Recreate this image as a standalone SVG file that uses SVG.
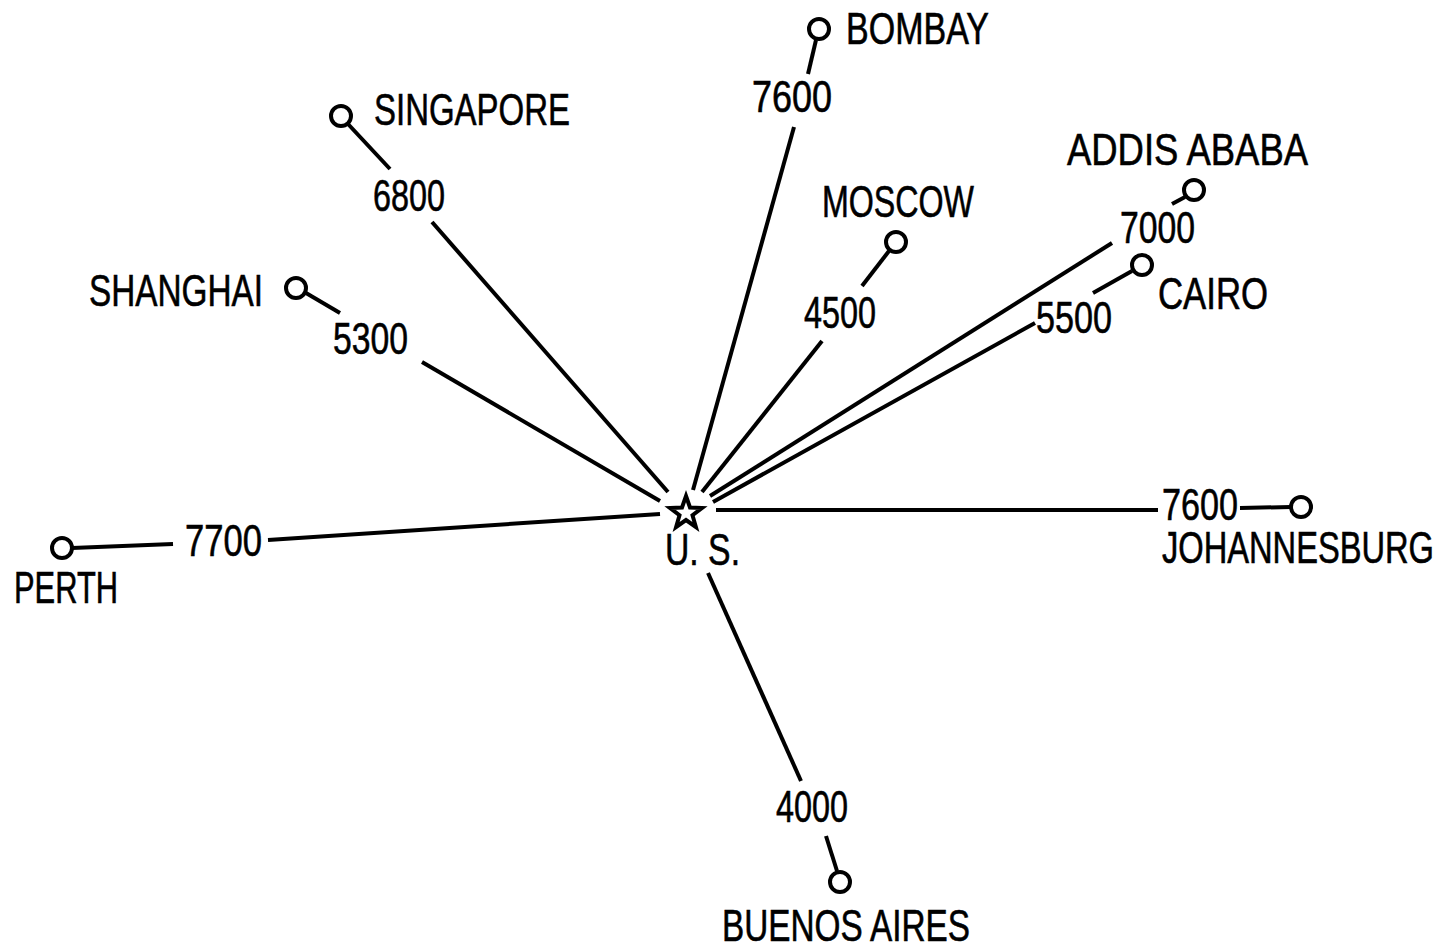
<svg xmlns="http://www.w3.org/2000/svg" width="1444" height="950" viewBox="0 0 1444 950">
<style>
.t{font-family:"Liberation Sans","DejaVu Sans",sans-serif;font-size:44px;fill:#000;stroke:#000;stroke-width:0.6}
.c{fill:none;stroke:#000;stroke-width:4}
.l{stroke:#000;stroke-width:4;stroke-linecap:butt;fill:none}
</style>
<rect width="1444" height="950" fill="#fff"/>
<g id="connectors">
<line class="l" x1="816" y1="40" x2="808" y2="74"/><line class="l" x1="794" y1="127" x2="693" y2="490"/>
<line class="l" x1="348" y1="124" x2="390" y2="169"/><line class="l" x1="432" y1="222" x2="668" y2="492"/>
<line class="l" x1="306" y1="293" x2="340" y2="313"/><line class="l" x1="422" y1="362" x2="660" y2="501"/>
<line class="l" x1="889" y1="251" x2="862" y2="286"/><line class="l" x1="822" y1="341" x2="702" y2="492"/>
<line class="l" x1="1185" y1="197" x2="1172" y2="204"/><line class="l" x1="1112" y1="243" x2="710" y2="496"/>
<line class="l" x1="1132" y1="271" x2="1093" y2="293"/><line class="l" x1="1035" y1="323" x2="713" y2="502"/>
<line class="l" x1="1240" y1="508" x2="1291" y2="507"/><line class="l" x1="716" y1="510" x2="1158" y2="510"/>
<line class="l" x1="72" y1="548" x2="173" y2="544"/><line class="l" x1="268" y1="540" x2="660" y2="514"/>
<line class="l" x1="826" y1="836" x2="837" y2="871"/><line class="l" x1="708" y1="573" x2="801" y2="781"/>
</g>
<g id="us">
<polygon points="686,496 690,507.5 702,508 692.5,515.2 695.9,527 686,520 676.1,527 679.5,515.2 670,508 682,507.5" fill="none" stroke="#000" stroke-width="4" stroke-linejoin="miter"/>
<text class="t" x="665" y="565" textLength="75" lengthAdjust="spacingAndGlyphs">U. S.</text>
</g>
<g id="bombay"><circle class="c" cx="819" cy="29" r="10"/><text class="t" x="846" y="44" textLength="143" lengthAdjust="spacingAndGlyphs">BOMBAY</text><text class="t" x="752" y="112" textLength="80" lengthAdjust="spacingAndGlyphs">7600</text></g>
<g id="singapore"><circle class="c" cx="341" cy="116" r="10"/><text class="t" x="374" y="125" textLength="196" lengthAdjust="spacingAndGlyphs">SINGAPORE</text><text class="t" x="373" y="211" textLength="72" lengthAdjust="spacingAndGlyphs">6800</text></g>
<g id="moscow"><circle class="c" cx="896" cy="242" r="10"/><text class="t" x="822" y="217" textLength="152" lengthAdjust="spacingAndGlyphs">MOSCOW</text><text class="t" x="804" y="328" textLength="72" lengthAdjust="spacingAndGlyphs">4500</text></g>
<g id="addis"><circle class="c" cx="1194" cy="190" r="10"/><text class="t" x="1067" y="165" textLength="241" lengthAdjust="spacingAndGlyphs">ADDIS ABABA</text><text class="t" x="1120" y="243" textLength="75" lengthAdjust="spacingAndGlyphs">7000</text></g>
<g id="cairo"><circle class="c" cx="1142" cy="265" r="10"/><text class="t" x="1158" y="309" textLength="110" lengthAdjust="spacingAndGlyphs">CAIRO</text><text class="t" x="1036" y="333" textLength="76" lengthAdjust="spacingAndGlyphs">5500</text></g>
<g id="shanghai"><circle class="c" cx="296" cy="288" r="10"/><text class="t" x="89" y="306" textLength="174" lengthAdjust="spacingAndGlyphs">SHANGHAI</text><text class="t" x="333" y="354" textLength="75" lengthAdjust="spacingAndGlyphs">5300</text></g>
<g id="perth"><circle class="c" cx="62" cy="548" r="10"/><text class="t" x="14" y="603" textLength="104" lengthAdjust="spacingAndGlyphs">PERTH</text><text class="t" x="185" y="556" textLength="77" lengthAdjust="spacingAndGlyphs">7700</text></g>
<g id="johannesburg"><circle class="c" cx="1301" cy="507" r="10"/><text class="t" x="1162" y="520" textLength="76" lengthAdjust="spacingAndGlyphs">7600</text><text class="t" x="1162" y="563" textLength="272" lengthAdjust="spacingAndGlyphs">JOHANNESBURG</text></g>
<g id="buenosaires"><circle class="c" cx="840" cy="882" r="10"/><text class="t" x="776" y="822" textLength="72" lengthAdjust="spacingAndGlyphs">4000</text><text class="t" x="722" y="941" textLength="248" lengthAdjust="spacingAndGlyphs">BUENOS AIRES</text></g>
</svg>
